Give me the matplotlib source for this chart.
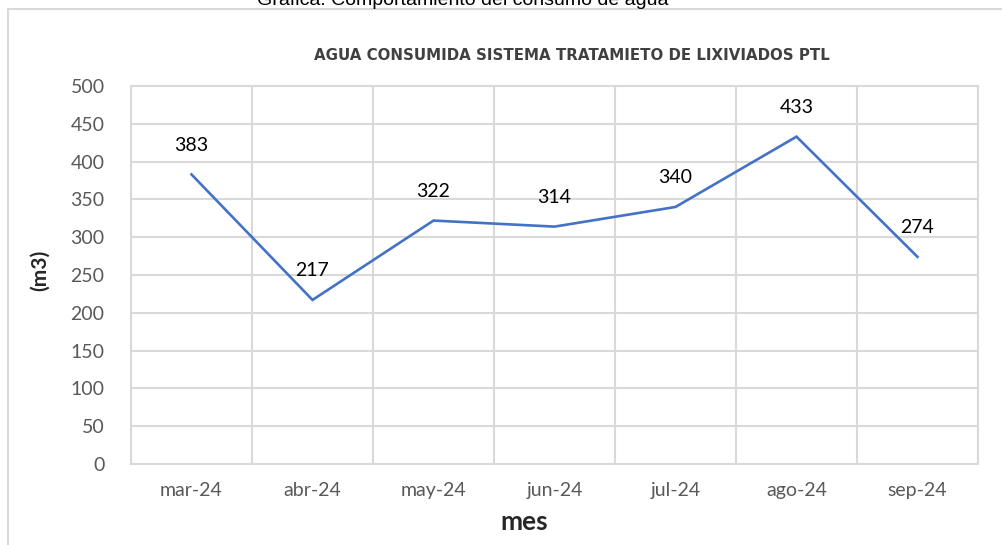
import matplotlib.pyplot as plt
from matplotlib.patches import Rectangle

# datos
meses = ['mar-24', 'abr-24', 'may-24', 'jun-24', 'jul-24', 'ago-24', 'sep-24']
consumo = [383, 217, 322, 314, 340, 433, 274]
y_ticks = [0, 50, 100, 150, 200, 250, 300, 350, 400, 450, 500]

W, H = 1003, 545
fig = plt.figure(figsize=(W / 100, H / 100), dpi=100)

# marco del gráfico
fig.patches.append(Rectangle((8 / W, -0.1), 1.2, 1 - 9 / H + 0.1, transform=fig.transFigure,
                             fill=False, edgecolor='#d9d9d9', linewidth=1.5))

# texto cortado arriba
fig.text(463 / W, 1 - 5 / H, 'Grafica. Comportamiento del consumo de agua',
         ha='center', va='baseline', fontsize=14, family='Liberation Sans', color='black')

ax = fig.add_axes([131 / W, 1 - 464 / H, (978 - 131) / W, (464 - 86) / H])

x = list(range(len(meses)))
ax.plot(x, consumo, color='#4472C4', linewidth=1.9, solid_joinstyle='miter')
for xi, v in zip(x, consumo):
    ax.annotate(str(v), (xi, v), xytext=(0, 29), textcoords='offset pixels',
                ha='center', va='center', fontsize=14, family='Lato', color='black')

ax.set_xlim(-0.5, len(meses) - 0.5)
ax.set_ylim(0, 500)
ax.set_yticks(y_ticks)
ax.set_xticks(x)
ax.set_xticklabels(meses)
ax.set_xticks([i - 0.5 for i in range(len(meses) + 1)], minor=True)
ax.tick_params(axis='both', which='both', length=0, labelsize=14, labelcolor='#595959')
ax.tick_params(axis='x', pad=13)
ax.tick_params(axis='y', pad=19)
for lab in ax.get_xticklabels() + ax.get_yticklabels():
    lab.set_family('Lato')

ax.grid(True, axis='y', which='major', color='#d9d9d9', linewidth=1.5)
ax.grid(True, axis='x', which='minor', color='#d9d9d9', linewidth=1.5)
ax.set_axisbelow(True)
for s in ax.spines.values():
    s.set_color('#d9d9d9')
    s.set_linewidth(1.5)

fig.text(572 / W, 1 - 55 / H, 'AGUA CONSUMIDA SISTEMA TRATAMIETO DE LIXIVIADOS PTL',
         ha='center', va='center', fontsize=10.8, fontweight='bold',
         family='Liberation Sans Narrow', color='#404040')
fig.text(40 / W, 1 - 270 / H, '(m3)', ha='center', va='center', rotation=90,
         fontsize=15, fontweight='bold', family='Lato', color='#262626')
fig.text(524 / W, 1 - 522 / H, 'mes', ha='center', va='center',
         fontsize=19, fontweight='bold', family='Lato', color='#262626')

fig.savefig('out.png', dpi=100)
